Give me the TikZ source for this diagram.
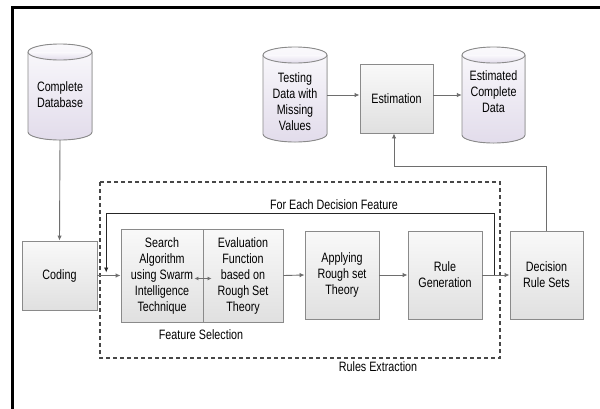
\documentclass[tikz,border=0pt]{standalone}
\usepackage{fontspec}
\setmainfont{Liberation Sans}[FakeStretch=0.79]
\usetikzlibrary{arrows.meta,calc,shadows}
\definecolor{boxline}{HTML}{8A8A8A}
\definecolor{arrowc}{HTML}{6E6E6E}
\definecolor{boxtop}{HTML}{F9F9F9}
\definecolor{boxbot}{HTML}{E0E0E0}
\definecolor{cyltop}{HTML}{FAF9FC}
\definecolor{cylbot}{HTML}{E2DCEB}
\newcommand{\drawcyl}[4]{%
  \filldraw[cylshape] ({#1-#4},{#2+8}) -- ({#1-#4},{#3-8})
    arc[start angle=180,end angle=360,x radius=#4pt,y radius=8pt]
    -- ({#1+#4},{#2+8})
    arc[start angle=0,end angle=180,x radius=#4pt,y radius=8pt] -- cycle;
  \draw[cylshape,fill=none] ({#1-#4},{#2+8})
    arc[start angle=180,end angle=360,x radius=#4pt,y radius=8pt];
}
\tikzset{
  procbox/.style={draw=boxline, line width=0.9pt, top color=boxtop, bottom color=boxbot,
    align=center, inner sep=1pt,
    drop shadow={shadow xshift=1.2pt, shadow yshift=-1.2pt, opacity=0.18}},
  cylshape/.style={draw=boxline, line width=0.9pt, top color=cyltop, bottom color=cylbot},
  cylnode/.style={inner sep=0pt, draw=none},
  txt/.style={align=center, inner sep=0pt},
  arr/.style={draw=arrowc, line width=0.9pt, -{Latex[length=5pt,width=4.5pt]}},
  darr/.style={draw=arrowc, line width=0.9pt, {Latex[length=4pt,width=4pt]}-{Latex[length=4pt,width=4pt]}},
  loopline/.style={draw=black!85, line width=0.9pt},
  dashbox/.style={draw=black!72, line width=1.3pt, dash pattern=on 4pt off 3pt},
}
\begin{document}
\begin{tikzpicture}[x=1pt,y=-1pt, font=\fontsize{13.6}{16}\selectfont]
\useasboundingbox (0,0) rectangle (600,408);
\fill[white] (0,0) rectangle (600,408);
% frame
\draw[line width=3pt] (12,430) -- (12,7) -- (630,7);

% cylinders
\drawcyl{60}{44}{140}{32}
\drawcyl{295}{47}{142}{32}
\drawcyl{493.5}{47}{143}{31.5}
\node[cylnode, minimum width=64pt, minimum height=96pt] (cdb) at (60,92) {};
\node[txt] (cdbtxt) at (60,95) {Complete\\Database};
\node[cylnode, minimum width=64pt, minimum height=95pt] (tdata) at (295,94.5) {};
\node[txt] (tdatatxt) at (295,102) {Testing\\Data with\\Missing\\Values};
\node[cylnode, minimum width=63pt, minimum height=96pt] (ecd) at (493.5,95) {};
\node[txt] (ecdtxt) at (493.5,92) {Estimated\\Complete\\Data};

% boxes
\node[procbox, minimum width=73pt, minimum height=69pt] (est) at (396.5,98.5) {Estimation};
\node[procbox, minimum width=75pt, minimum height=69pt] (cod) at (59.5,275.5) {Coding};
\node[procbox, minimum width=82pt, minimum height=93pt] (srch) at (162,275.5) {Search\\Algorithm\\using Swarm\\Intelligence\\Technique};
\node[procbox, minimum width=80pt, minimum height=93pt] (evl) at (243,275.5) {Evaluation\\Function\\based on\\Rough Set\\Theory};
\node[procbox, minimum width=74pt, minimum height=88pt] (appl) at (342,275) {Applying\\Rough set\\Theory};
\node[procbox, minimum width=74pt, minimum height=88pt] (rgen) at (445,275) {Rule\\Generation};
\node[procbox, minimum width=73pt, minimum height=88pt] (drs) at (546.5,275) {Decision\\Rule Sets};

% dashed box
\draw[dashbox] (100,182) rectangle (500,358);

% labels
\node[txt] (fsel) at (201,335) {Feature Selection};
\node[txt] (rext) at (378,367) {Rules Extraction};
\node[txt] (fedf) at (334,205) {For Each Decision Feature};

% connectors
\draw[arr] (cdb.south) -- (cod.north);
\draw[arr] (cod.east) -- (srch.west);
\draw[darr] ($(srch.east)+(-9,3)$) -- ($(evl.west)+(9,3)$);
\draw[arr] (evl.east) -- (appl.west);
\draw[arr] (appl.east) -- (rgen.west);
\draw[arr] (rgen.east) -- (drs.west);
\draw[arr] (tdata.east |- 0,95) -- (est.west |- 0,95);
\draw[arr] (est.east |- 0,95) -- (ecd.west |- 0,95);
\draw[arr] (drs.north) -- ++(0,-64) -| ($(est.south)+(-2.5,0)$);
\coordinate (lstart) at ($(rgen.east)!0.46!(drs.west)$);
\coordinate (ltop) at (lstart |- 0,213);
\coordinate (lend) at ($(cod.east)!0.38!(srch.west)$);
\draw[loopline, -{Latex[length=5pt,width=4.5pt]}] (lstart) -- (ltop) -| ($(lend)+(0,-3)$);
\end{tikzpicture}
\end{document}
